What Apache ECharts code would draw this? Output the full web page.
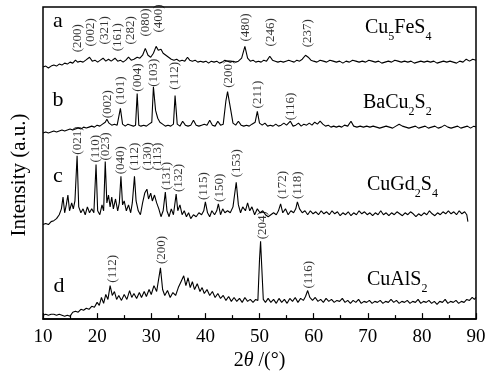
<!DOCTYPE html>
<html>
<head>
<meta charset="utf-8">
<style>html,body{margin:0;padding:0;background:#fff}#chart{width:498px;height:376px}</style>
<script src="https://cdn.jsdelivr.net/npm/echarts@6/dist/echarts.min.js"></script>
</head>
<body>
<div id="chart"></div>
<script>
// XRD patterns, intensity in arbitrary units (curves stacked)
const traceA = [[10,256],[10.5,257],[11,255],[11.5,257],[12,258],[12.5,257],[13,259],[13.5,258],[14,260],[14.5,259],[15,261],[15.5,260],[16,263],[16.4,261],[16.9,262],[17.4,261],[17.9,263],[18.6,266],[19.1,262],[19.6,263],[20.1,261],[20.6,263],[21.1,265],[21.6,262],[22.1,264],[22.6,262],[23.3,265],[23.8,262],[24.3,263],[24.8,261],[25.3,263],[25.8,266],[26.3,263],[26.8,264],[27.4,266],[27.9,265],[28.4,268],[28.9,275],[29.4,268],[29.9,266],[30.4,270],[30.9,277],[31.3,273],[31.8,274],[32.2,270],[32.7,268],[33.2,266],[33.7,264],[34.2,263],[34.7,264],[35.2,262],[35.7,263],[36.2,262],[36.7,266],[37.1,263],[37.6,262],[38.1,263],[38.6,261],[39.1,262],[39.6,261],[40.1,262],[40.6,260],[41.1,262],[41.6,261],[42.1,262],[42.6,260],[43.1,261],[43.6,263],[44.1,262],[44.6,261],[45.1,262],[45.6,261],[46.1,262],[46.7,265],[47.3,277],[47.8,265],[48.3,262],[48.8,263],[49.3,261],[49.8,262],[50.3,261],[50.8,263],[51.3,262],[51.9,267],[52.4,263],[52.9,262],[53.4,261],[53.9,262],[54.4,261],[54.9,262],[55.4,263],[55.9,262],[56.4,261],[56.9,263],[57.4,262],[57.9,264],[58.5,268],[59,266],[59.5,263],[60,262],[60.6,261],[61.2,263],[61.8,262],[62.4,261],[63,263],[63.6,262],[64.2,261],[64.8,262],[65.4,260],[66,262],[66.6,261],[67.2,263],[67.8,262],[68.4,261],[69,262],[69.6,261],[70.2,263],[70.8,262],[71.4,261],[72,262],[72.6,260],[73.2,261],[73.8,262],[74.4,261],[75,263],[75.6,262],[76.2,261],[76.8,262],[77.4,261],[78,262],[78.6,260],[79.2,261],[79.8,262],[80.4,261],[81,262],[81.6,261],[82.2,262],[82.8,260],[83.4,261],[84,262],[84.6,261],[85.2,262],[85.8,261],[86.4,260],[87,262],[87.6,261],[88.2,264],[88.8,262],[89.4,264],[90,263]];

const traceB = [[10,189],[10.5,190],[11,189],[11.5,190],[12,191],[12.5,190],[13,191],[13.5,192],[14,191],[14.5,192],[15,193],[15.5,192],[16,193],[16.5,194],[17,193],[17.5,195],[18,194],[18.5,195],[19,196],[19.5,195],[20,197],[20.5,196],[21,198],[21.5,200],[21.8,203],[22.2,199],[22.7,197],[23.2,198],[23.7,197],[24.3,214],[24.7,198],[25.2,196],[25.7,198],[26.2,197],[26.7,196],[27.1,197],[27.4,229],[27.7,197],[28.1,196],[28.6,197],[29.1,196],[29.6,198],[30.1,200],[30.4,236],[30.8,212],[31.2,204],[31.6,200],[32.1,198],[32.6,196],[33.1,197],[33.6,196],[34.1,198],[34.4,227],[34.8,198],[35.3,196],[35.8,201],[36.3,197],[36.8,196],[37.3,197],[37.8,202],[38.3,197],[38.8,196],[39.3,197],[39.8,198],[40.3,197],[40.8,202],[41.3,197],[41.8,196],[42.3,201],[42.8,197],[43.3,198],[43.8,222],[44.1,231],[44.4,230],[44.7,212],[45.1,199],[45.6,197],[46.1,201],[46.6,197],[47.1,196],[47.6,197],[48.1,196],[48.6,198],[49.2,200],[49.6,211],[50,199],[50.5,197],[51,199],[51.5,196],[52,197],[52.5,196],[53,198],[53.5,196],[54,197],[54.5,199],[55,197],[55.7,201],[56.2,196],[56.7,197],[57.2,199],[57.7,196],[58.2,198],[58.7,197],[59.2,199],[59.7,197],[60.2,200],[60.7,198],[61.2,201],[61.7,198],[62.2,196],[62.7,197],[63.2,195],[63.7,196],[64.2,195],[64.7,196],[65.2,195],[65.7,197],[66.3,196],[66.9,201],[67.4,196],[68,195],[68.6,196],[69.2,195],[69.8,196],[70.4,195],[71,196],[71.6,195],[72.2,194],[72.8,195],[73.4,196],[74,195],[74.6,194],[75.2,196],[75.8,198],[76.4,196],[77,195],[77.6,194],[78.2,195],[78.8,196],[79.4,194],[80,195],[80.6,196],[81.2,194],[81.8,195],[82.4,196],[83,194],[83.6,195],[84.2,197],[84.8,195],[85.4,194],[86,195],[86.6,196],[87.2,194],[87.8,195],[88.4,196],[89,194],[89.6,196],[90,195]];

const traceC = [[10,96],[10.5,97],[11,96],[11.5,99],[12,100],[12.5,102],[13,106],[13.4,112],[13.7,124],[14,108],[14.3,116],[14.6,126],[14.9,110],[15.3,118],[15.6,112],[15.9,120],[16.3,166],[16.6,114],[17,108],[17.4,112],[17.8,106],[18.2,114],[18.6,108],[19,112],[19.4,108],[19.8,157],[20.1,110],[20.5,106],[20.9,116],[21.2,110],[21.5,160],[21.8,118],[22.1,126],[22.4,114],[22.7,124],[23,112],[23.4,122],[23.8,110],[24.1,118],[24.4,145],[24.7,116],[25,120],[25.4,110],[25.8,116],[26.2,108],[26.5,118],[26.9,145],[27.2,120],[27.6,110],[28,106],[28.4,118],[28.8,128],[29.2,132],[29.5,122],[29.9,128],[30.2,120],[30.6,126],[31,118],[31.4,112],[31.8,104],[32.2,110],[32.6,129],[32.9,110],[33.3,104],[33.7,112],[34.1,106],[34.6,127],[34.9,110],[35.3,116],[35.7,106],[36.1,110],[36.5,104],[36.9,108],[37.3,102],[37.8,106],[38.3,104],[38.8,108],[39.3,106],[39.7,110],[40,119],[40.4,108],[40.8,104],[41.2,110],[41.7,106],[42.1,110],[42.4,117],[42.8,106],[43.2,112],[43.6,108],[44.1,110],[44.6,108],[45.1,114],[45.7,139],[46.1,116],[46.5,108],[46.9,114],[47.4,110],[47.8,118],[48.2,110],[48.6,114],[49.1,106],[49.6,112],[50.1,108],[50.6,110],[51.1,106],[51.6,104],[52.1,106],[52.6,108],[53.1,106],[53.5,110],[53.9,117],[54.3,108],[54.8,112],[55.3,106],[55.8,110],[56.3,108],[56.7,112],[57,119],[57.4,112],[57.9,108],[58.4,110],[58.9,106],[59.4,110],[59.9,107],[60.4,109],[60.9,106],[61.4,110],[61.9,107],[62.4,109],[62.9,106],[63.4,110],[63.9,107],[64.4,109],[64.9,105],[65.4,108],[65.9,106],[66.4,109],[66.9,105],[67.4,108],[67.9,106],[68.4,110],[68.9,107],[69.4,109],[69.9,106],[70.4,108],[70.9,105],[71.4,108],[71.9,106],[72.4,110],[72.9,106],[73.4,108],[73.9,105],[74.4,108],[74.9,106],[75.4,109],[75.9,107],[76.4,105],[76.9,108],[77.4,106],[77.9,109],[78.4,107],[78.9,104],[79.4,107],[79.9,105],[80.4,108],[80.9,106],[81.4,110],[81.9,107],[82.4,105],[82.9,108],[83.4,106],[83.9,109],[84.4,107],[84.9,110],[85.4,107],[85.9,109],[86.4,106],[86.9,110],[87.4,107],[87.9,109],[88.3,106],[88.5,99]];

const traceD = [[10,4],[10.5,5],[11,4],[11.5,5],[12,5],[12.5,4],[13,5],[13.5,4],[14,3],[14.5,4],[15,3],[15.5,7],[16,8],[16.5,7],[17,10],[17.5,9],[18,11],[18.5,10],[19,13],[19.5,12],[20,17],[20.4,14],[20.8,22],[21.2,16],[21.6,25],[22,20],[22.4,34],[22.8,24],[23.2,28],[23.6,20],[24,24],[24.5,19],[25,25],[25.5,20],[26,29],[26.4,22],[26.8,26],[27.3,21],[27.8,27],[28.2,22],[28.7,28],[29.1,23],[29.6,30],[30,25],[30.5,34],[31,28],[31.7,52],[32.1,30],[32.5,24],[33,29],[33.5,22],[34,27],[34.5,24],[35,32],[35.5,38],[36,44],[36.4,34],[36.8,42],[37.2,32],[37.6,38],[38,30],[38.5,36],[39,28],[39.4,32],[39.8,26],[40.3,30],[40.8,24],[41.3,28],[41.8,22],[42.3,26],[42.8,21],[43.3,24],[43.8,19],[44.3,23],[44.8,18],[45.3,22],[45.8,18],[46.3,21],[46.8,17],[47.3,22],[47.8,18],[48.3,20],[48.8,17],[49.3,20],[49.7,19],[50,60],[50.2,79],[50.4,55],[50.7,20],[51.1,17],[51.6,21],[52.1,17],[52.6,20],[53.1,16],[53.6,21],[54.1,17],[54.6,20],[55.1,16],[55.6,21],[56.1,18],[56.6,22],[57.1,17],[57.6,21],[58.1,19],[58.5,23],[58.9,29],[59.3,22],[59.8,19],[60.3,22],[60.8,18],[61.3,20],[61.8,17],[62.3,21],[62.8,18],[63.3,20],[63.8,17],[64.3,19],[64.8,18],[65.3,21],[65.8,17],[66.3,19],[66.8,16],[67.3,19],[67.8,17],[68.3,20],[68.8,16],[69.3,18],[69.8,17],[70.3,19],[70.8,16],[71.3,18],[71.8,17],[72.3,19],[72.8,16],[73.3,18],[73.8,17],[74.3,20],[74.8,17],[75.3,19],[75.8,16],[76.3,18],[76.8,17],[77.3,19],[77.8,16],[78.3,18],[78.8,17],[79.3,20],[79.8,16],[80.3,18],[80.8,17],[81.3,19],[81.8,16],[82.3,18],[82.8,15],[83.3,18],[83.8,17],[84.3,20],[84.8,16],[85.3,18],[85.8,17],[86.3,19],[86.8,16],[87.3,18],[87.8,17],[88.3,20],[88.8,19],[89.3,22],[89.7,20],[90,22]];

// [hkl, 2theta, intensity at label foot]
const hklA = [['(200)',16.3,271],['(002)',18.7,277],['(321)',21.3,279],['(161)',23.7,272],['(282)',26.1,279],['(080)',28.9,287],['(400)',31.3,291],['(480)',47.4,282],['(246)',52.0,277],['(237)',58.9,276]];
const hklB = [['(002)',21.9,204],['(101)',24.3,218],['(004)',27.4,231],['(103)',30.4,236],['(112)',34.4,233],['(200)',44.3,235],['(211)',49.6,214],['(116)',55.7,202]];
const hklC = [['(021)',16.3,167],['(110)',19.8,159],['(023)',21.5,161],['(040)',24.4,147],['(112)',26.9,151],['(130)',29.3,151],['(113)',31.1,151],['(131)',32.8,131],['(132)',35.0,129],['(115)',39.6,121],['(150)',42.6,119],['(153)',45.7,144],['(172)',54.3,122],['(118)',57.0,122]];
const hklD = [['(112)',22.8,37],['(200)',31.9,56],['(204)',50.6,81],['(116)',59.1,31]];

const letters = ['a', 'b', 'c', 'd'];
const compounds = ['Cu{s|5}FeS{s|4}', 'BaCu{s|2}S{s|2}', 'CuGd{s|2}S{s|4}', 'CuAlS{s|2}'];

const FONT = "'Liberation Serif', 'Times New Roman', serif";
const letterPos = [[58, 21], [58, 100], [58, 176], [59, 286]];
const compoundPos = [[365, 28], [363, 103], [367, 185], [367, 280]];

const chart = echarts.init(document.getElementById('chart'));

const lineSeries = [traceA, traceB, traceC, traceD].map(d => ({
  type: 'line',
  data: d,
  symbol: 'none',
  silent: true,
  lineStyle: { color: '#000', width: 1.1 }
}));

const hklAll = [...hklA, ...hklB, ...hklC, ...hklD];

const graphic = [];
letters.forEach((t, i) => {
  graphic.push({
    type: 'text', x: letterPos[i][0], y: letterPos[i][1],
    style: { text: t, fontSize: 22, fontFamily: FONT, fill: '#000', align: 'center', verticalAlign: 'middle' }
  });
});
compounds.forEach((t, i) => {
  graphic.push({
    type: 'text', x: compoundPos[i][0], y: compoundPos[i][1],
    style: {
      text: t, fontSize: 20, fontFamily: FONT, fill: '#000', align: 'left', verticalAlign: 'middle',
      lineHeight: 30,
      rich: { s: { fontSize: 12, fontFamily: FONT, lineHeight: 12, verticalAlign: 'bottom' } }
    }
  });
});
graphic.push({
  type: 'text', x: 19, y: 175, rotation: Math.PI / 2,
  style: { text: 'Intensity (a.u.)', fontSize: 21, fontFamily: FONT, fill: '#000', align: 'center', verticalAlign: 'middle' }
});

chart.setOption({
  animation: false,
  grid: { left: 43, right: 22, top: 7, bottom: 52, show: true, borderColor: '#000', borderWidth: 1.5 },
  xAxis: {
    type: 'value', min: 10, max: 90, interval: 10,
    axisLine: { lineStyle: { color: '#000', width: 1.5 } },
    axisTick: { inside: true, length: 6, lineStyle: { color: '#000', width: 1.2 } },
    minorTick: { show: true, splitNumber: 2, length: 4, lineStyle: { color: '#000', width: 1.2 } },
    axisLabel: { color: '#000', fontSize: 19, fontFamily: FONT, margin: 8 },
    splitLine: { show: false },
    name: '2{i|θ} /(°)',
    nameLocation: 'middle',
    nameGap: 28,
    nameTextStyle: { color: '#000', fontSize: 20, fontFamily: FONT, lineHeight: 20,
      rich: { i: { fontStyle: 'italic', fontSize: 20, fontFamily: FONT, lineHeight: 20 } } }
  },
  yAxis: {
    type: 'value', min: 0, max: 317,
    axisLine: { show: false }, axisTick: { show: false }, axisLabel: { show: false }, splitLine: { show: false }
  },
  series: [
    ...lineSeries,
    {
      type: 'scatter',
      symbol: 'circle',
      symbolSize: 1,
      silent: true,
      itemStyle: { color: 'rgba(0,0,0,0)' },
      data: hklAll.map(h => [h[1], h[2], h[0]]),
      label: {
        show: true, position: 'inside', rotate: 90, align: 'left', verticalAlign: 'middle',
        formatter: p => p.value[2], fontSize: 13, fontFamily: FONT, color: '#000'
      }
    }
  ],
  graphic: graphic
});
</script>
</body>
</html>
